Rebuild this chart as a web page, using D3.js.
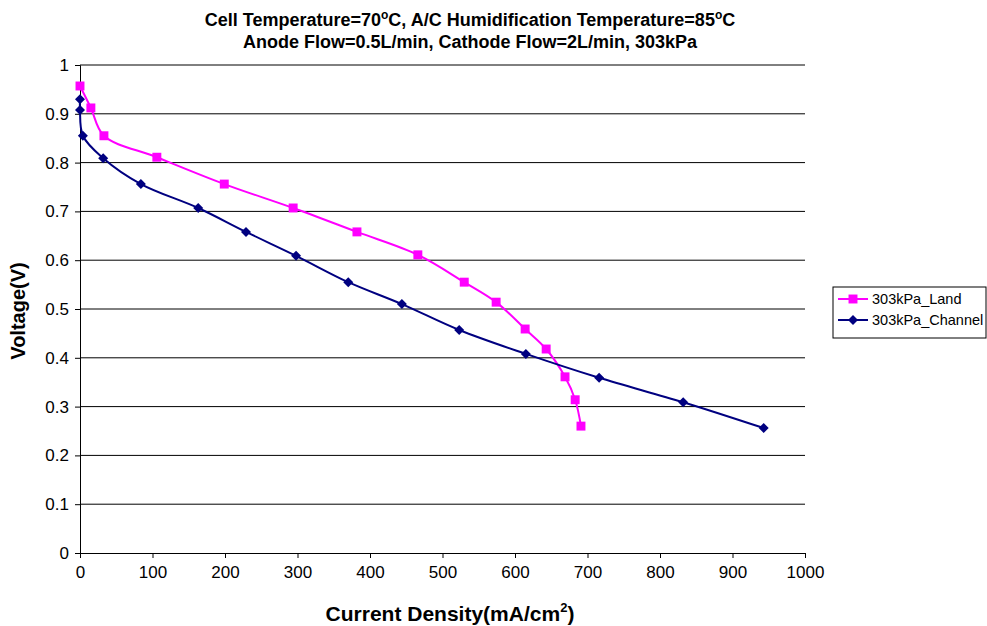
<!DOCTYPE html>
<html>
<head>
<meta charset="utf-8">
<script src="https://cdn.jsdelivr.net/npm/d3@7"></script>
<style>
  body { margin: 0; background: #fff; }
  svg { font-family: "Liberation Sans", Arial, sans-serif; }
</style>
</head>
<body>
<div class="canvas"></div>
<script>
// data
const landCurrent = [0, 15, 33, 106, 199, 294, 382, 466, 530, 574, 614, 643, 669, 683, 691];
const landVoltage = [0.957, 0.912, 0.855, 0.811, 0.756, 0.707, 0.658, 0.611, 0.555, 0.514, 0.459, 0.418, 0.361, 0.314, 0.260];
const channelCurrent = [0, 0, 4, 32, 84, 163, 229, 298, 370, 444, 523, 615, 716, 832, 943];
const channelVoltage = [0.930, 0.908, 0.855, 0.809, 0.756, 0.707, 0.658, 0.609, 0.555, 0.510, 0.457, 0.408, 0.359, 0.309, 0.256];
const xTicks = [0, 100, 200, 300, 400, 500, 600, 700, 800, 900, 1000];
const yTicks = [0, 0.1, 0.2, 0.3, 0.4, 0.5, 0.6, 0.7, 0.8, 0.9, 1];
const seriesNames = ["303kPa_Land", "303kPa_Channel"];

const width = 987;
const height = 626;
const marginTop = 65;
const marginRight = 182;
const marginBottom = 73;
const marginLeft = 80;

const x = d3.scaleLinear()
            .domain([0, 1000])
            .range([marginLeft, width - marginRight]);

const y = d3.scaleLinear()
            .domain([0, 1])
            .range([height - marginBottom, marginTop]);

const svg = d3.select(".canvas").append("svg")
              .attr("width", width)
              .attr("height", height);

// grid lines
svg.append("g")
  .selectAll("line")
  .data(yTicks.filter(d => d > 0))
  .join("line")
    .attr("x1", x(0))
    .attr("x2", x(1000))
    .attr("y1", d => y(d))
    .attr("y2", d => y(d))
    .attr("stroke", "#000")
    .attr("stroke-width", 1);

// axes
const gx = svg.append("g")
  .attr("transform", translate(0, y(0)))
  .call(d3.axisBottom(x).tickValues(xTicks).tickSize(5).tickPadding(8).tickFormat(d3.format("d")));

const gy = svg.append("g")
  .attr("transform", translate(x(0), 0))
  .call(d3.axisLeft(y).tickValues(yTicks).tickSize(5).tickPadding(6).tickFormat(d => d === 0 || d === 1 ? d : d.toFixed(1)));

[gx, gy].forEach(g => {
  g.select(".domain").attr("stroke", "#000");
  g.selectAll(".tick line").attr("stroke", "#000");
  g.selectAll(".tick text")
    .attr("font-size", 17)
    .attr("font-family", "Liberation Sans, Arial, sans-serif")
    .attr("fill", "#000");
});

// series
const land = landCurrent.map((c, i) => ({ c, v: landVoltage[i] }));
const channel = channelCurrent.map((c, i) => ({ c, v: channelVoltage[i] }));

const line = d3.line()
  .x(d => x(d.c))
  .y(d => y(d.v))
  .curve(d3.curveCatmullRom.alpha(0.5));

svg.append("path")
  .datum(land)
  .attr("fill", "none")
  .attr("stroke", "#ff00ff")
  .attr("stroke-width", 2)
  .attr("d", line);

svg.append("path")
  .datum(channel)
  .attr("fill", "none")
  .attr("stroke", "#000080")
  .attr("stroke-width", 2)
  .attr("d", line);

const square = d3.symbol().type(d3.symbolSquare).size(80);
const diamond = "M0,-5L5,0L0,5L-5,0Z";

svg.append("g")
  .selectAll("path")
  .data(land)
  .join("path")
    .attr("transform", d => translate(x(d.c), y(d.v)))
    .attr("d", square)
    .attr("fill", "#ff00ff");

svg.append("g")
  .selectAll("path")
  .data(channel)
  .join("path")
    .attr("transform", d => translate(x(d.c), y(d.v)))
    .attr("d", diamond)
    .attr("fill", "#000080");

// titles
const title = svg.append("text")
  .attr("text-anchor", "middle")
  .attr("font-weight", "bold")
  .attr("font-size", 18)
  .attr("x", 470);

const t1 = title.append("tspan").attr("x", 470).attr("y", 26);
t1.append("tspan").text("Cell Temperature=70");
t1.append("tspan").attr("font-size", 12).attr("dy", -7).text("o");
t1.append("tspan").attr("dy", 7).text("C, A/C Humidification Temperature=85");
t1.append("tspan").attr("font-size", 12).attr("dy", -7).text("o");
t1.append("tspan").attr("dy", 7).text("C");
title.append("tspan").attr("x", 470).attr("y", 48)
  .text("Anode Flow=0.5L/min, Cathode Flow=2L/min, 303kPa");

const xTitle = svg.append("text")
  .attr("text-anchor", "middle")
  .attr("font-weight", "bold")
  .attr("font-size", 21)
  .attr("x", 450)
  .attr("y", 621);
xTitle.append("tspan").text("Current Density(mA/cm");
xTitle.append("tspan").attr("font-size", 13).attr("dy", -9).text("2");
xTitle.append("tspan").attr("dy", 9).text(")");

svg.append("text")
  .attr("text-anchor", "middle")
  .attr("font-weight", "bold")
  .attr("font-size", 20)
  .attr("transform", "translate(25," + (y(0.5) + 2) + ") rotate(-90)")
  .text("Voltage(V)");

// legend
const legend = svg.append("g").attr("transform", translate(833, 287));
legend.append("rect")
  .attr("width", 153)
  .attr("height", 51)
  .attr("fill", "#fff")
  .attr("stroke", "#000");

const legendColors = ["#ff00ff", "#000080"];
seriesNames.forEach((name, i) => {
  const g = legend.append("g").attr("transform", translate(0, 12 + i * 21));
  g.append("line")
    .attr("x1", 5).attr("x2", 35)
    .attr("stroke", legendColors[i])
    .attr("stroke-width", 2);
  g.append("path")
    .attr("transform", translate(20, 0))
    .attr("d", i === 0 ? square : diamond)
    .attr("fill", legendColors[i]);
  g.append("text")
    .attr("x", 39)
    .attr("dy", "0.35em")
    .attr("font-size", 14.5)
    .text(name);
});

function translate(x, y) {
  return "translate(" + x + ", " + y + ")";
}
</script>
</body>
</html>
